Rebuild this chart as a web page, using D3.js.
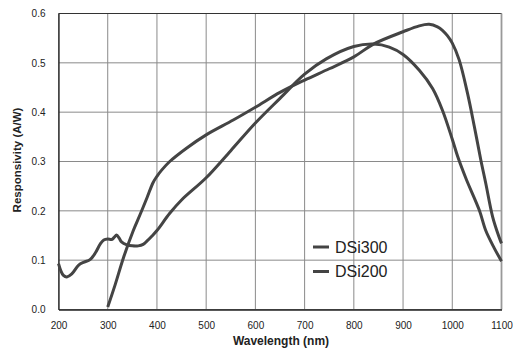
<!DOCTYPE html>
<html>
<head>
<meta charset="utf-8">
<script src="https://cdn.jsdelivr.net/npm/d3@7"></script>
<style>
  body { margin: 0; background: #fff; }
  svg { display: block; font-family: "Liberation Sans", Arial, sans-serif; }
</style>
</head>
<body>
<div id="chart"></div>
<script>
// wavelength (nm), responsivity (A/W)
const dsi200 = [
  [200, 0.093], [205, 0.078], [210, 0.069], [217, 0.066], [227, 0.072], [241, 0.090],
  [252, 0.096], [264, 0.101], [275, 0.115], [285, 0.133], [292, 0.141], [300, 0.143],
  [308, 0.142], [313, 0.146], [318, 0.151], [323, 0.145], [328, 0.137], [339, 0.131],
  [350, 0.129], [362, 0.129], [372, 0.132], [380, 0.139], [390, 0.149], [400, 0.160],
  [426, 0.195], [450, 0.222], [500, 0.267], [550, 0.322], [600, 0.378], [650, 0.428],
  [700, 0.477], [744, 0.508], [800, 0.533], [840, 0.538], [872, 0.532], [900, 0.517],
  [933, 0.485], [960, 0.448], [980, 0.404], [1000, 0.345], [1011, 0.310], [1028, 0.265],
  [1055, 0.201], [1068, 0.160], [1085, 0.125], [1100, 0.098]
];
const dsi300 = [
  [300, 0.005], [315, 0.050], [332, 0.105], [352, 0.160], [366, 0.193], [380, 0.227],
  [392, 0.257], [400, 0.270], [410, 0.283], [426, 0.300], [460, 0.327], [500, 0.354],
  [555, 0.384], [600, 0.410], [650, 0.440], [700, 0.465], [750, 0.488], [800, 0.512],
  [840, 0.538], [900, 0.563], [933, 0.575], [953, 0.578], [970, 0.573], [980, 0.566],
  [990, 0.555], [1000, 0.540], [1014, 0.506], [1031, 0.438], [1045, 0.370], [1058, 0.303],
  [1068, 0.256], [1082, 0.188], [1095, 0.147], [1100, 0.134]
];
const xTicks = [200, 300, 400, 500, 600, 700, 800, 900, 1000, 1100];
const yTicks = [0.0, 0.1, 0.2, 0.3, 0.4, 0.5, 0.6];
const legendNames = ['DSi300', 'DSi200'];

const width = 513;
const height = 349;
const marginTop = 13.5;
const marginRight = 11.5;
const marginBottom = 39.5;
const marginLeft = 58.5;

const svg = d3.select('#chart')
  .append('svg')
  .attr('width', width)
  .attr('height', height);

const x = d3.scaleLinear()
  .domain([200, 1100])
  .range([marginLeft, width - marginRight]);

const y = d3.scaleLinear()
  .domain([0, 0.6])
  .range([height - marginBottom, marginTop]);

// grid lines
svg.append('g')
  .selectAll('line')
  .data(xTicks)
  .join('line')
  .attr('x1', d => x(d))
  .attr('x2', d => x(d))
  .attr('y1', y(0))
  .attr('y2', y(0.6))
  .attr('stroke', '#8a8a8a')
  .attr('stroke-width', 1);

svg.append('g')
  .selectAll('line')
  .data(yTicks)
  .join('line')
  .attr('x1', x(200))
  .attr('x2', x(1100))
  .attr('y1', d => y(d))
  .attr('y2', d => y(d))
  .attr('stroke', '#8a8a8a')
  .attr('stroke-width', 1);

// frame
svg.append('path')
  .attr('d', `M${x(200)},${y(0.6)}H${x(1100)}`)
  .attr('stroke', '#333').attr('stroke-width', 1.2);
svg.append('path')
  .attr('d', `M${x(1100)},${y(0.6)}V${y(0)}`)
  .attr('stroke', '#999').attr('stroke-width', 1.8);

// axes
svg.append('g')
  .attr('transform', `translate(0,${y(0)})`)
  .call(d3.axisBottom(x).tickValues(xTicks).tickFormat(d3.format('d')).tickSize(0).tickPadding(12))
  .call(g => g.select('.domain').attr('stroke', '#222').attr('stroke-width', 1.3))
  .call(g => g.selectAll('text').style('font-size', '10px').attr('fill', '#222'));

svg.append('g')
  .attr('transform', `translate(${x(200)},0)`)
  .call(d3.axisLeft(y).tickValues(yTicks).tickFormat(d3.format('.1f')).tickSize(0).tickPadding(13))
  .call(g => g.select('.domain').attr('stroke', '#222').attr('stroke-width', 1.3))
  .call(g => g.selectAll('text').style('font-size', '10px').attr('fill', '#222'));

// axis titles
svg.append('text')
  .attr('x', 281)
  .attr('y', 345)
  .attr('text-anchor', 'middle')
  .style('font-size', '12px')
  .style('font-weight', 'bold')
  .attr('fill', '#222')
  .text('Wavelength (nm)');

svg.append('text')
  .attr('transform', 'translate(21,160) rotate(-90)')
  .attr('text-anchor', 'middle')
  .style('font-size', '11.5px')
  .style('font-weight', 'bold')
  .attr('fill', '#222')
  .text('Responsivity (A/W)');

// curves
const line = d3.line()
  .x(d => x(d[0]))
  .y(d => y(d[1]))
  .curve(d3.curveCatmullRom.alpha(0.5));

[dsi300, dsi200].forEach(series => {
  svg.append('path')
    .attr('fill', 'none')
    .attr('stroke', '#444')
    .attr('stroke-width', 3)
    .attr('stroke-linejoin', 'round')
    .attr('d', line(series));
});

// handmade legend
legendNames.forEach((name, i) => {
  const ly = 247 + i * 24.5;
  svg.append('line')
    .attr('x1', 313)
    .attr('x2', 329)
    .attr('y1', ly)
    .attr('y2', ly)
    .attr('stroke', '#444')
    .attr('stroke-width', 3);
  svg.append('text')
    .attr('x', 335)
    .attr('y', ly)
    .attr('dy', '0.36em')
    .style('font-size', '16px')
    .attr('fill', '#222')
    .text(name);
});
</script>
</body>
</html>
